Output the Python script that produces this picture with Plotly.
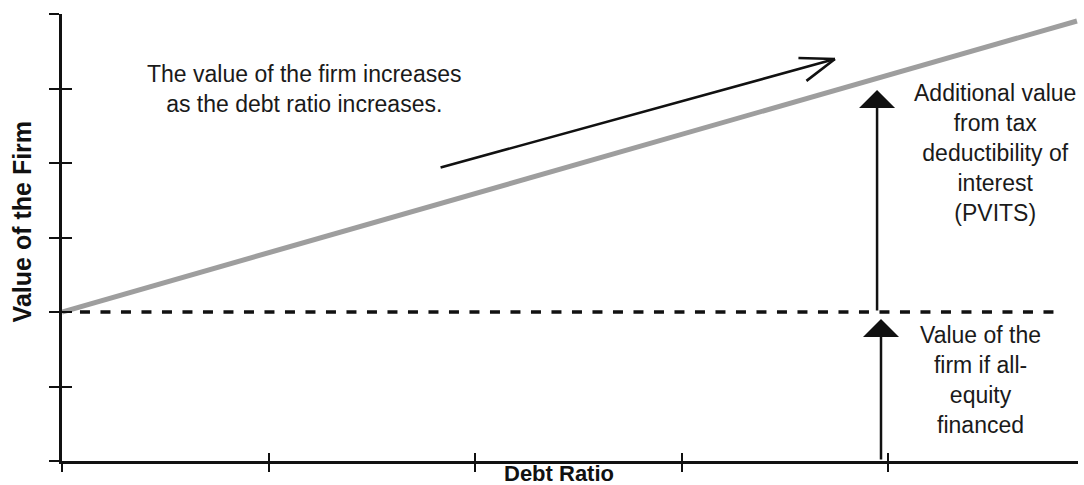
import plotly.graph_objects as go

# ---- data (axis units: debt-ratio ticks 0..4, value ticks 0..6) ----
debt_ratio = [0.0, 4.915]
firm_value = [2.0, 5.906]
all_equity_x = [0.087, 4.83]
all_equity_y = [2.0, 2.0]
x_tick_vals = [0, 1, 2, 3, 4]
y_tick_vals = [0, 1, 2, 3, 4, 5, 6]
x_range = [0, 4.92]
y_range = [0, 6]

# arrows (data coordinates)
trend_start = (1.826, 3.933)
trend_tip = (3.743, 5.396)
pvits_x, pvits_from, pvits_to = 3.947, 2.0, 4.98
equity_x, equity_from, equity_to = 3.966, 0.0, 1.906

# text
trend_text = "The value of the firm increases<br>as the debt ratio increases."
pvits_text = "Additional value<br>from tax<br>deductibility of<br>interest<br>(PVITS)"
equity_text = "Value of the<br>firm if all-<br>equity<br>financed"
x_title = "Debt Ratio"
y_title = "Value of the Firm"

FONT = "Liberation Sans, Arial, Helvetica, sans-serif"
INK = "#1a1a1a"

fig = go.Figure()
fig.add_trace(go.Scatter(x=all_equity_x, y=all_equity_y, mode="lines",
                         line=dict(color="#111111", width=3.5, dash="10px,10.5px"),
                         hoverinfo="skip", showlegend=False))
fig.add_trace(go.Scatter(x=debt_ratio, y=firm_value, mode="lines",
                         line=dict(color="#9e9e9e", width=5),
                         hoverinfo="skip", showlegend=False))
# invisible trace to activate overlay axes (inside half of crossing ticks)
fig.add_trace(go.Scatter(x=[None], y=[None], xaxis="x2", yaxis="y2",
                         hoverinfo="skip", showlegend=False))

common = dict(showgrid=False, zeroline=False, showticklabels=False,
              tickcolor="#111111", tickwidth=2)
fig.update_layout(
    width=1084, height=485,
    margin=dict(l=62, r=6, t=14, b=24),
    paper_bgcolor="white", plot_bgcolor="white",
    font=dict(family=FONT, color=INK),
    xaxis=dict(range=x_range, tickvals=x_tick_vals, ticks="outside", ticklen=8,
               showline=True, linecolor="#111111", linewidth=2.5, **common),
    yaxis=dict(range=y_range, tickvals=y_tick_vals, ticks="outside", ticklen=10,
               showline=True, linecolor="#111111", linewidth=2.5, **common),
    xaxis2=dict(range=x_range, tickvals=x_tick_vals, ticks="inside", ticklen=8,
                overlaying="x", anchor="y2", side="bottom", showline=False, **common),
    yaxis2=dict(range=y_range, tickvals=y_tick_vals, ticks="inside", ticklen=10,
                overlaying="y", anchor="x2", side="left", showline=False, **common),
)

ann = []
# trend arrow shaft
ann.append(dict(x=trend_tip[0], y=trend_tip[1], ax=trend_start[0], ay=trend_start[1],
                xref="x", yref="y", axref="x", ayref="y", text="", showarrow=True,
                arrowhead=0, arrowwidth=2.6, arrowcolor="#111111"))
# open chevron arms (pixel offsets from tip)
for dx, dy in [(-38, -1), (-30, 23)]:
    ann.append(dict(x=trend_tip[0], y=trend_tip[1], ax=dx, ay=dy, xref="x", yref="y",
                    text="", showarrow=True, arrowhead=0, arrowwidth=2.6,
                    arrowcolor="#111111"))
# vertical arrows
ann.append(dict(x=pvits_x, y=pvits_to, ax=pvits_x, ay=pvits_from, xref="x", yref="y",
                axref="x", ayref="y", text="", showarrow=True, arrowhead=1,
                arrowsize=2.4, arrowwidth=2.5, arrowcolor="#111111"))
ann.append(dict(x=equity_x, y=equity_to, ax=equity_x, ay=equity_from, xref="x", yref="y",
                axref="x", ayref="y", text="", showarrow=True, arrowhead=1,
                arrowsize=2.4, arrowwidth=2.5, arrowcolor="#111111"))
# texts
ann.append(dict(x=1.172, y=5.0, xref="x", yref="y", text=trend_text, showarrow=False,
                font=dict(size=23, family=FONT, color=INK), align="center",
                xanchor="center", yanchor="middle"))
ann.append(dict(x=4.518, y=4.141, xref="x", yref="y", text=pvits_text, showarrow=False,
                font=dict(size=23, family=FONT, color=INK), align="center",
                xanchor="center", yanchor="middle"))
ann.append(dict(x=4.446, y=1.087, xref="x", yref="y", text=equity_text, showarrow=False,
                font=dict(size=23, family=FONT, color=INK), align="center",
                xanchor="center", yanchor="middle"))
ann.append(dict(x=2.409, y=-0.027, xref="x", yref="paper", text="<b>%s</b>" % x_title,
                showarrow=False, font=dict(size=22, family=FONT, color="#111111"),
                xanchor="center", yanchor="middle"))
ann.append(dict(x=-0.039, y=3.208, xref="paper", yref="y", text="<b>%s</b>" % y_title,
                showarrow=False, textangle=-90,
                font=dict(size=25, family=FONT, color="#111111"),
                xanchor="center", yanchor="middle"))
fig.update_layout(annotations=ann)

fig.write_html("out.html", config={"displayModeBar": False},
               post_script="document.body.style.margin='0px';document.body.style.overflow='hidden';")
